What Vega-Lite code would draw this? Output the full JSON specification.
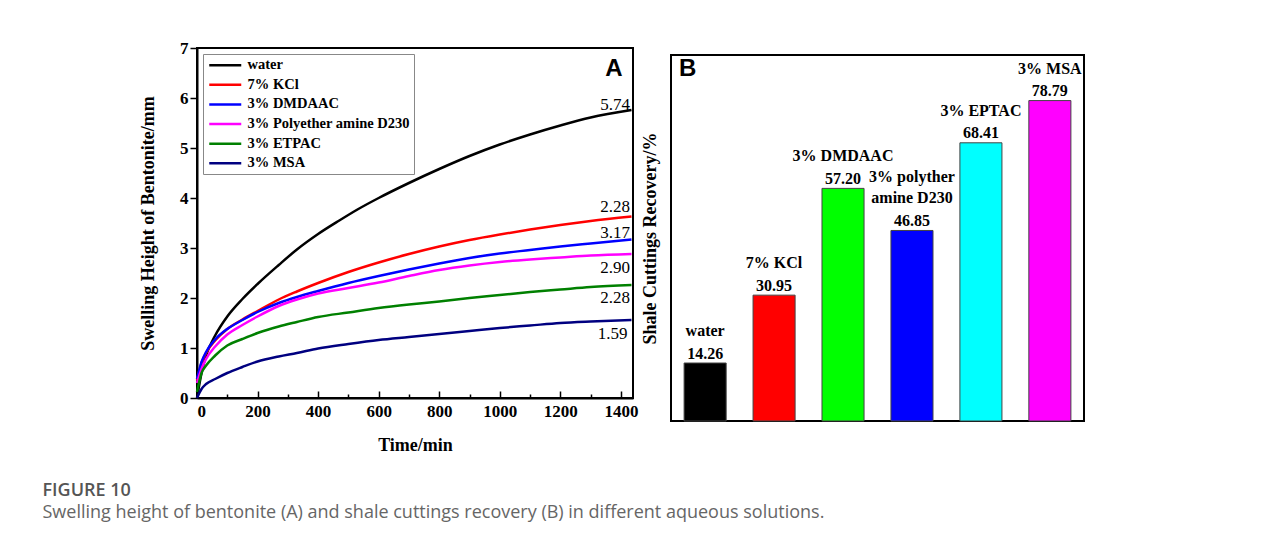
{
  "$schema": "https://vega.github.io/schema/vega-lite/v6.json",
  "background": "white",
  "padding": {"left": 42, "top": 38, "right": 5, "bottom": 5},
  "config": {
    "view": {"stroke": null},
    "font": "Liberation Serif",
    "axis": {"labelFont": "Liberation Serif", "titleFont": "Liberation Serif", "labelColor": "black", "titleColor": "black", "grid": false}
  },
  "resolve": {"scale": {"color": "independent"}},
  "title": {
    "text": "FIGURE 10",
    "subtitle": "Swelling height of bentonite (A) and shale cuttings recovery (B) in different aqueous solutions.",
    "orient": "bottom", "anchor": "start", "frame": "bounds",
    "dx": -95.5, "offset": 27,
    "font": "Open Sans", "fontSize": 18, "fontWeight": 600, "color": "#555555",
    "subtitleFont": "Open Sans", "subtitleFontSize": 18, "subtitleColor": "#666666", "subtitlePadding": 4
  },
  "datasets": {
    "swelling": [
      {"solution": "water", "time": 0, "height": 0}, {"solution": "water", "time": 15, "height": 0.5}, {"solution": "water", "time": 30, "height": 0.85}, {"solution": "water", "time": 60, "height": 1.25}, {"solution": "water", "time": 100, "height": 1.63}, {"solution": "water", "time": 150, "height": 1.98}, {"solution": "water", "time": 200, "height": 2.28}, {"solution": "water", "time": 270, "height": 2.66}, {"solution": "water", "time": 330, "height": 2.97}, {"solution": "water", "time": 400, "height": 3.28}, {"solution": "water", "time": 470, "height": 3.55}, {"solution": "water", "time": 530, "height": 3.77}, {"solution": "water", "time": 600, "height": 4.0}, {"solution": "water", "time": 700, "height": 4.3}, {"solution": "water", "time": 800, "height": 4.58}, {"solution": "water", "time": 900, "height": 4.84}, {"solution": "water", "time": 1000, "height": 5.07}, {"solution": "water", "time": 1100, "height": 5.27}, {"solution": "water", "time": 1200, "height": 5.45}, {"solution": "water", "time": 1300, "height": 5.61}, {"solution": "water", "time": 1435, "height": 5.76},
      {"solution": "7% KCl", "time": 0, "height": 0.35}, {"solution": "7% KCl", "time": 15, "height": 0.7}, {"solution": "7% KCl", "time": 30, "height": 0.9}, {"solution": "7% KCl", "time": 60, "height": 1.15}, {"solution": "7% KCl", "time": 100, "height": 1.38}, {"solution": "7% KCl", "time": 150, "height": 1.57}, {"solution": "7% KCl", "time": 200, "height": 1.74}, {"solution": "7% KCl", "time": 270, "height": 1.97}, {"solution": "7% KCl", "time": 330, "height": 2.13}, {"solution": "7% KCl", "time": 400, "height": 2.3}, {"solution": "7% KCl", "time": 500, "height": 2.52}, {"solution": "7% KCl", "time": 600, "height": 2.71}, {"solution": "7% KCl", "time": 700, "height": 2.88}, {"solution": "7% KCl", "time": 800, "height": 3.03}, {"solution": "7% KCl", "time": 900, "height": 3.16}, {"solution": "7% KCl", "time": 1000, "height": 3.27}, {"solution": "7% KCl", "time": 1100, "height": 3.37}, {"solution": "7% KCl", "time": 1200, "height": 3.46}, {"solution": "7% KCl", "time": 1300, "height": 3.54}, {"solution": "7% KCl", "time": 1435, "height": 3.63},
      {"solution": "3% DMDAAC", "time": 0, "height": 0.38}, {"solution": "3% DMDAAC", "time": 15, "height": 0.72}, {"solution": "3% DMDAAC", "time": 30, "height": 0.92}, {"solution": "3% DMDAAC", "time": 60, "height": 1.17}, {"solution": "3% DMDAAC", "time": 100, "height": 1.38}, {"solution": "3% DMDAAC", "time": 150, "height": 1.56}, {"solution": "3% DMDAAC", "time": 200, "height": 1.72}, {"solution": "3% DMDAAC", "time": 270, "height": 1.9}, {"solution": "3% DMDAAC", "time": 330, "height": 2.02}, {"solution": "3% DMDAAC", "time": 400, "height": 2.14}, {"solution": "3% DMDAAC", "time": 500, "height": 2.3}, {"solution": "3% DMDAAC", "time": 600, "height": 2.44}, {"solution": "3% DMDAAC", "time": 700, "height": 2.57}, {"solution": "3% DMDAAC", "time": 800, "height": 2.69}, {"solution": "3% DMDAAC", "time": 900, "height": 2.8}, {"solution": "3% DMDAAC", "time": 1000, "height": 2.89}, {"solution": "3% DMDAAC", "time": 1100, "height": 2.96}, {"solution": "3% DMDAAC", "time": 1200, "height": 3.03}, {"solution": "3% DMDAAC", "time": 1300, "height": 3.09}, {"solution": "3% DMDAAC", "time": 1435, "height": 3.17},
      {"solution": "3% Polyether amine D230", "time": 0, "height": 0.3}, {"solution": "3% Polyether amine D230", "time": 15, "height": 0.58}, {"solution": "3% Polyether amine D230", "time": 30, "height": 0.78}, {"solution": "3% Polyether amine D230", "time": 60, "height": 1.03}, {"solution": "3% Polyether amine D230", "time": 100, "height": 1.27}, {"solution": "3% Polyether amine D230", "time": 150, "height": 1.46}, {"solution": "3% Polyether amine D230", "time": 200, "height": 1.63}, {"solution": "3% Polyether amine D230", "time": 270, "height": 1.84}, {"solution": "3% Polyether amine D230", "time": 330, "height": 1.97}, {"solution": "3% Polyether amine D230", "time": 400, "height": 2.09}, {"solution": "3% Polyether amine D230", "time": 500, "height": 2.2}, {"solution": "3% Polyether amine D230", "time": 600, "height": 2.31}, {"solution": "3% Polyether amine D230", "time": 700, "height": 2.44}, {"solution": "3% Polyether amine D230", "time": 800, "height": 2.56}, {"solution": "3% Polyether amine D230", "time": 900, "height": 2.65}, {"solution": "3% Polyether amine D230", "time": 1000, "height": 2.72}, {"solution": "3% Polyether amine D230", "time": 1100, "height": 2.77}, {"solution": "3% Polyether amine D230", "time": 1200, "height": 2.81}, {"solution": "3% Polyether amine D230", "time": 1300, "height": 2.85}, {"solution": "3% Polyether amine D230", "time": 1435, "height": 2.88},
      {"solution": "3% ETPAC", "time": 0, "height": 0.12}, {"solution": "3% ETPAC", "time": 15, "height": 0.5}, {"solution": "3% ETPAC", "time": 30, "height": 0.65}, {"solution": "3% ETPAC", "time": 60, "height": 0.85}, {"solution": "3% ETPAC", "time": 100, "height": 1.05}, {"solution": "3% ETPAC", "time": 150, "height": 1.18}, {"solution": "3% ETPAC", "time": 200, "height": 1.3}, {"solution": "3% ETPAC", "time": 270, "height": 1.43}, {"solution": "3% ETPAC", "time": 330, "height": 1.52}, {"solution": "3% ETPAC", "time": 400, "height": 1.62}, {"solution": "3% ETPAC", "time": 500, "height": 1.71}, {"solution": "3% ETPAC", "time": 600, "height": 1.8}, {"solution": "3% ETPAC", "time": 700, "height": 1.87}, {"solution": "3% ETPAC", "time": 800, "height": 1.93}, {"solution": "3% ETPAC", "time": 900, "height": 2.0}, {"solution": "3% ETPAC", "time": 1000, "height": 2.06}, {"solution": "3% ETPAC", "time": 1100, "height": 2.12}, {"solution": "3% ETPAC", "time": 1200, "height": 2.17}, {"solution": "3% ETPAC", "time": 1300, "height": 2.22}, {"solution": "3% ETPAC", "time": 1435, "height": 2.26},
      {"solution": "3% MSA", "time": 0, "height": 0}, {"solution": "3% MSA", "time": 15, "height": 0.18}, {"solution": "3% MSA", "time": 30, "height": 0.28}, {"solution": "3% MSA", "time": 60, "height": 0.38}, {"solution": "3% MSA", "time": 100, "height": 0.5}, {"solution": "3% MSA", "time": 150, "height": 0.62}, {"solution": "3% MSA", "time": 200, "height": 0.73}, {"solution": "3% MSA", "time": 270, "height": 0.83}, {"solution": "3% MSA", "time": 330, "height": 0.9}, {"solution": "3% MSA", "time": 400, "height": 0.99}, {"solution": "3% MSA", "time": 500, "height": 1.08}, {"solution": "3% MSA", "time": 600, "height": 1.16}, {"solution": "3% MSA", "time": 700, "height": 1.22}, {"solution": "3% MSA", "time": 800, "height": 1.28}, {"solution": "3% MSA", "time": 900, "height": 1.34}, {"solution": "3% MSA", "time": 1000, "height": 1.4}, {"solution": "3% MSA", "time": 1100, "height": 1.45}, {"solution": "3% MSA", "time": 1200, "height": 1.5}, {"solution": "3% MSA", "time": 1300, "height": 1.53}, {"solution": "3% MSA", "time": 1435, "height": 1.56}
    ],
    "endLabels": [
      {"label": "5.74", "time": 1430, "height": 5.87},
      {"label": "2.28", "time": 1430, "height": 3.83},
      {"label": "3.17", "time": 1430, "height": 3.3},
      {"label": "2.90", "time": 1430, "height": 2.6},
      {"label": "2.28", "time": 1430, "height": 2.0},
      {"label": "1.59", "time": 1422, "height": 1.28}
    ],
    "panelA": [{"label": "A", "time": 1377, "height": 6.58}],
    "recovery": [
      {"solution": "water", "name": "water", "nameAbove": "", "recovery": 14.26},
      {"solution": "7% KCl", "name": "7% KCl", "nameAbove": "", "recovery": 30.95},
      {"solution": "3% DMDAAC", "name": "3% DMDAAC", "nameAbove": "", "recovery": 57.20},
      {"solution": "3% polyther amine D230", "name": "amine D230", "nameAbove": "3% polyther", "recovery": 46.85},
      {"solution": "3% EPTAC", "name": "3% EPTAC", "nameAbove": "", "recovery": 68.41},
      {"solution": "3% MSA", "name": "3% MSA", "nameAbove": "", "recovery": 78.79}
    ],
    "panelB": [{"label": "B", "solution": "water", "recovery": 86.5}]
  },
  "spacing": 1,
  "hconcat": [
    {
      "width": 436,
      "height": 350,
      "view": {"stroke": "black", "strokeWidth": 2},
      "resolve": {"axis": {"x": "independent"}},
      "layer": [
        {
          "data": {"name": "swelling"},
          "mark": {"type": "point", "opacity": 0},
          "encoding": {
            "x": {"field": "time", "type": "quantitative", "scale": {"domain": [0, 1440], "nice": false},
                  "axis": {"orient": "bottom", "values": [100, 300, 500, 700, 900, 1100, 1300], "labels": false, "domain": false, "tickSize": -4, "tickWidth": 1.5, "tickColor": "black", "title": null}},
            "y": {"field": "height", "type": "quantitative"}
          }
        },
        {
          "data": {"name": "swelling"},
          "mark": {"type": "line", "interpolate": "monotone", "strokeWidth": 2.5},
          "encoding": {
            "x": {"field": "time", "type": "quantitative", "scale": {"domain": [0, 1440], "nice": false},
                  "axis": {"orient": "bottom", "values": [0, 200, 400, 600, 800, 1000, 1200, 1400], "format": "d", "title": "Time/min", "tickSize": -7, "tickWidth": 1.5, "tickColor": "black", "domainColor": "black", "domainWidth": 2,
                           "labelFontSize": 17, "labelFontWeight": "bold", "labelPadding": 12, "titleFontSize": 18, "titleFontWeight": "bold", "titlePadding": 17}},
            "y": {"field": "height", "type": "quantitative", "scale": {"domain": [0, 7], "nice": false},
                  "axis": {"values": [0, 1, 2, 3, 4, 5, 6, 7], "title": "Swelling Height of Bentonite/mm", "tickSize": 7, "tickWidth": 1.5, "tickColor": "black", "domainColor": "black", "domainWidth": 2,
                           "labelFontSize": 17, "labelFontWeight": "bold", "labelPadding": 2, "titleFontSize": 18, "titleFontWeight": "bold", "titlePadding": 22.5}},
            "color": {"field": "solution", "type": "nominal",
                      "scale": {"domain": ["water", "7% KCl", "3% DMDAAC", "3% Polyether amine D230", "3% ETPAC", "3% MSA"], "range": ["#000000", "#ff0000", "#0000ff", "#ff00ff", "#008000", "#000080"]},
                      "legend": {"title": null, "orient": "none", "legendX": 6, "legendY": 6, "symbolType": "M-1,0H5.4", "symbolSize": 100, "symbolStrokeWidth": 2.5,
                                 "labelFont": "Liberation Serif", "labelFontSize": 14.5, "labelFontWeight": "bold", "labelColor": "black", "labelOffset": 26, "labelLimit": 400,
                                 "rowPadding": 4.6, "padding": 4, "strokeColor": "#888888", "fillColor": "white"}}
          }
        },
        {
          "data": {"name": "endLabels"},
          "mark": {"type": "text", "align": "right", "baseline": "middle", "fontSize": 17, "font": "Liberation Serif", "color": "black"},
          "encoding": {
            "x": {"field": "time", "type": "quantitative", "axis": null},
            "y": {"field": "height", "type": "quantitative"},
            "text": {"field": "label"}
          }
        },
        {
          "data": {"name": "panelA"},
          "mark": {"type": "text", "align": "center", "baseline": "middle", "fontSize": 24, "font": "Liberation Sans", "fontWeight": "bold", "color": "black"},
          "encoding": {
            "x": {"field": "time", "type": "quantitative", "axis": null},
            "y": {"field": "height", "type": "quantitative"},
            "text": {"field": "label"}
          }
        }
      ]
    },
    {
      "spacing": 2,
      "vconcat": [
        {
          "width": 413,
          "height": 1,
          "data": {"values": [{"v": 0}]},
          "mark": {"type": "point", "opacity": 0},
          "encoding": {}
        },
        {
          "width": 413,
          "height": 366,
          "view": {"stroke": "black", "strokeWidth": 2},
          "layer": [
            {
              "data": {"name": "recovery"},
              "mark": {"type": "bar", "stroke": "#444444", "strokeWidth": 1},
              "encoding": {
                "x": {"field": "solution", "type": "nominal", "sort": null,
                      "scale": {"domain": ["water", "7% KCl", "3% DMDAAC", "3% polyther amine D230", "3% EPTAC", "3% MSA"], "paddingInner": 0.39, "paddingOuter": 0.19}, "axis": null},
                "y": {"field": "recovery", "type": "quantitative", "scale": {"domain": [0, 90], "nice": false},
                      "axis": {"title": "Shale Cuttings Recovery/%", "labels": false, "ticks": false, "domain": false, "titleFontSize": 18, "titleFontWeight": "bold", "titlePadding": 12}},
                "color": {"field": "solution", "type": "nominal", "legend": null,
                          "scale": {"domain": ["water", "7% KCl", "3% DMDAAC", "3% polyther amine D230", "3% EPTAC", "3% MSA"], "range": ["#000000", "#ff0000", "#00ff00", "#0000ff", "#00ffff", "#ff00ff"]}}
              }
            },
            {
              "data": {"name": "recovery"},
              "mark": {"type": "text", "align": "center", "baseline": "bottom", "dy": -1.5, "fontSize": 16, "font": "Liberation Serif", "fontWeight": "bold", "color": "black"},
              "encoding": {
                "x": {"field": "solution", "type": "nominal", "sort": null},
                "y": {"field": "recovery", "type": "quantitative"},
                "text": {"field": "recovery", "type": "quantitative", "format": ".2f"}
              }
            },
            {
              "data": {"name": "recovery"},
              "mark": {"type": "text", "align": "center", "baseline": "bottom", "dy": -24, "fontSize": 16, "font": "Liberation Serif", "fontWeight": "bold", "color": "black"},
              "encoding": {
                "x": {"field": "solution", "type": "nominal", "sort": null},
                "y": {"field": "recovery", "type": "quantitative"},
                "text": {"field": "name"}
              }
            },
            {
              "data": {"name": "recovery"},
              "transform": [{"filter": "datum.nameAbove != ''"}],
              "mark": {"type": "text", "align": "center", "baseline": "bottom", "dy": -45, "fontSize": 16, "font": "Liberation Serif", "fontWeight": "bold", "color": "black"},
              "encoding": {
                "x": {"field": "solution", "type": "nominal", "sort": null},
                "y": {"field": "recovery", "type": "quantitative"},
                "text": {"field": "nameAbove"}
              }
            },
            {
              "data": {"name": "panelB"},
              "mark": {"type": "text", "align": "left", "baseline": "middle", "dx": -5, "fontSize": 24, "font": "Liberation Sans", "fontWeight": "bold", "color": "black"},
              "encoding": {
                "x": {"field": "solution", "type": "nominal", "bandPosition": 0},
                "y": {"field": "recovery", "type": "quantitative"},
                "text": {"field": "label"}
              }
            }
          ]
        }
      ]
    }
  ]
}
